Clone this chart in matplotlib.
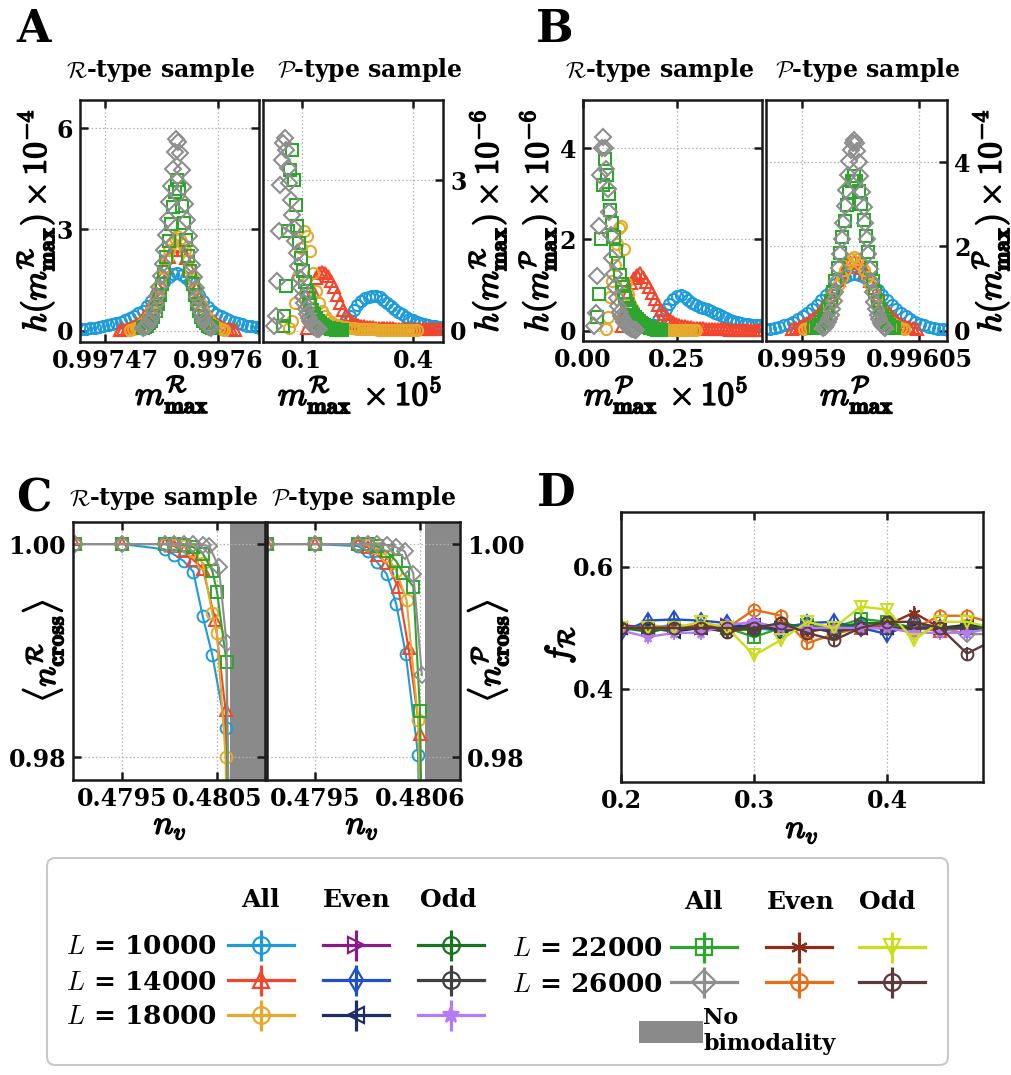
import numpy as np
import matplotlib
matplotlib.use("Agg")
import matplotlib.pyplot as plt
from matplotlib.lines import Line2D
from matplotlib.collections import LineCollection
from matplotlib.container import ErrorbarContainer
from matplotlib.legend_handler import HandlerErrorbar
from matplotlib.patches import FancyBboxPatch, Patch
import matplotlib.patheffects as pe

plt.rcParams.update({
    "font.family": ["DejaVu Serif"],
    "font.weight": "bold",
    "mathtext.fontset": "cm",
    "axes.unicode_minus": False,
    "font.size": 18,
})

# ---------------------------------------------------------------- styles
SIZES = [10000, 14000, 18000, 22000, 26000]
COL_ALL = ["#1E9BDB", "#F4452C", "#E5A92B", "#2EA52E", "#8E8E8E"]
MK_ALL = ["o", "^", "o", "s", "D"]
COL_EVEN = ["#8B1A89", "#1F4FCB", "#1B2F66", "#8B2E1A", "#E56F17"]
MK_EVEN = [">", "d", "<", (6, 2, 0), "o"]
COL_ODD = ["#1A7320", "#404040", "#B57BF5", "#CBDD1B", "#5C3A3A"]
MK_ODD = ["o", "o", "*", "v", "o"]
FILLED_ODD = [False, False, True, False, False]
SHADE = "#8A8A8A"

# ---------------------------------------------------------------- panel A, R-type sample: h(m_max^R) x 1e-4
AL_START = [0.997443, 0.997487, 0.997499, 0.997513, 0.997514]
AL_STEP = [0.000005, 0.000004, 0.000003, 0.0000025, 0.000002]
AL_10000 = [0.05, 0.06, 0.07, 0.09, 0.11, 0.13, 0.16, 0.19, 0.23, 0.27, 0.32, 0.38, 0.44, 0.52, 0.60,
            0.73, 0.88, 1.08, 1.30, 1.45, 1.58, 1.67, 1.71, 1.66, 1.56, 1.44, 1.28, 1.07, 0.87, 0.72,
            0.59, 0.51, 0.43, 0.37, 0.31, 0.26, 0.22, 0.19, 0.15, 0.13, 0.11, 0.09, 0.07, 0.06, 0.05]
AL_14000 = [0.03, 0.04, 0.06, 0.09, 0.13, 0.19, 0.29, 0.40, 0.56, 0.77, 1.00, 1.30, 1.60, 1.90, 2.18,
            2.40, 2.53, 2.52, 2.38, 2.15, 1.88, 1.58, 1.28, 1.00, 0.77, 0.55, 0.40, 0.28, 0.19, 0.13,
            0.09, 0.06, 0.04, 0.03]
AL_18000 = [0.03, 0.05, 0.07, 0.11, 0.16, 0.23, 0.33, 0.45, 0.60, 0.80, 1.02, 1.28, 1.55, 1.85, 2.12,
            2.40, 2.60, 2.74, 2.80, 2.73, 2.58, 2.38, 2.10, 1.83, 1.54, 1.27, 1.00, 0.79, 0.60, 0.45,
            0.33, 0.23, 0.16, 0.11, 0.07, 0.05, 0.03]
AL_22000 = [0.07, 0.10, 0.15, 0.22, 0.30, 0.42, 0.58, 0.80, 1.05, 1.38, 1.75, 2.18, 2.65, 3.15, 3.65,
            4.10, 4.45, 4.20, 3.70, 3.20, 2.70, 2.20, 1.78, 1.40, 1.07, 0.80, 0.58, 0.42, 0.30, 0.22,
            0.15, 0.10, 0.07]
AL_26000 = [0.08, 0.11, 0.15, 0.22, 0.31, 0.42, 0.58, 0.78, 1.02, 1.30, 1.62, 1.98, 2.40, 2.85, 3.30,
            3.80, 4.30, 4.80, 5.30, 5.68, 5.60, 5.25, 4.75, 4.25, 3.75, 3.28, 2.82, 2.38, 1.95, 1.60,
            1.28, 1.00, 0.77, 0.57, 0.42, 0.30, 0.21, 0.15, 0.10, 0.07]

# ---------------------------------------------------------------- panel A, P-type sample: h(m_max^R) x 1e-6, m in units of 1e-5
AR_START = [0.19, 0.115, 0.066, 0.048, 0.026]
AR_STEP = [0.01, 0.008, 0.008, 0.005, 0.004]
AR_10000 = [0.03, 0.06, 0.12, 0.20, 0.30, 0.42, 0.52, 0.60, 0.65, 0.68, 0.70, 0.70, 0.67, 0.62, 0.56,
            0.50, 0.44, 0.38, 0.33, 0.28, 0.24, 0.21, 0.18, 0.16, 0.14, 0.12, 0.10, 0.09, 0.08, 0.07, 0.06]
AR_14000 = [0.05, 0.30, 0.80, 1.05, 1.15, 1.18, 1.15, 1.10, 1.00, 0.88, 0.72, 0.55, 0.42, 0.32, 0.24,
            0.18, 0.14, 0.11, 0.10, 0.09, 0.08, 0.07, 0.07, 0.06, 0.06, 0.06, 0.05, 0.05, 0.05, 0.05,
            0.04, 0.04, 0.04, 0.04, 0.04, 0.04, 0.03, 0.03, 0.03, 0.03, 0.03, 0.03, 0.03, 0.03, 0.03, 0.03]
AR_18000 = [0.05, 0.20, 0.55, 1.10, 1.65, 2.00, 1.90, 1.60, 1.15, 0.80, 0.55, 0.40, 0.30, 0.22, 0.17,
            0.13, 0.11, 0.09, 0.08, 0.07, 0.06, 0.05, 0.05, 0.04, 0.04, 0.04, 0.03, 0.03, 0.03, 0.03,
            0.02, 0.02, 0.02, 0.02, 0.02, 0.02, 0.01, 0.01, 0.01, 0.01, 0.01, 0.01, 0.01, 0.01]
AR_22000 = [0.10, 0.30, 0.90, 2.00, 3.20, 3.60, 3.00, 2.50, 2.10, 1.75, 1.45, 1.20, 0.98, 0.80, 0.65,
            0.52, 0.42, 0.33, 0.26, 0.20, 0.16, 0.12, 0.09, 0.07, 0.06, 0.05, 0.04, 0.03, 0.03, 0.02,
            0.02, 0.01, 0.01]
AR_26000 = [0.10, 0.30, 1.00, 2.00, 2.90, 3.40, 3.75, 3.85, 3.60, 3.25, 2.95, 2.60, 2.30, 2.05, 1.80,
            1.55, 1.30, 1.05, 0.85, 0.68, 0.55, 0.43, 0.33, 0.25, 0.19, 0.14, 0.10, 0.07, 0.05, 0.04, 0.03]

# ---------------------------------------------------------------- panel B, R-type sample: h(m_max^P) x 1e-6, m in units of 1e-5
BL_START = [0.18, 0.104, 0.060, 0.038, 0.030]
BL_STEP = [0.01, 0.008, 0.006, 0.005, 0.004]
BL_10000 = [0.05, 0.12, 0.24, 0.36, 0.48, 0.60, 0.70, 0.77, 0.79, 0.74, 0.67, 0.61, 0.56, 0.53, 0.50,
            0.47, 0.44, 0.40, 0.37, 0.33, 0.29, 0.25, 0.22, 0.20, 0.18, 0.16, 0.15, 0.14, 0.13, 0.12, 0.11]
BL_14000 = [0.10, 0.40, 0.82, 1.04, 1.15, 1.22, 1.26, 1.18, 1.08, 0.95, 0.84, 0.70, 0.57, 0.46, 0.36,
            0.29, 0.23, 0.19, 0.16, 0.13, 0.11, 0.10, 0.09, 0.08, 0.07, 0.07, 0.06, 0.06, 0.05, 0.05,
            0.05, 0.04, 0.04, 0.04, 0.04, 0.04, 0.03, 0.03, 0.03, 0.03, 0.03, 0.03, 0.03, 0.02, 0.02,
            0.02, 0.02]
BL_18000 = [0.05, 0.30, 0.75, 1.10, 1.45, 1.90, 2.25, 2.30, 1.80, 1.05, 0.80, 0.60, 0.47, 0.37, 0.29,
            0.24, 0.19, 0.16, 0.13, 0.11, 0.09, 0.08, 0.07, 0.06, 0.05, 0.05, 0.04, 0.04, 0.03, 0.03,
            0.03, 0.02, 0.02, 0.02, 0.02, 0.02, 0.01, 0.01, 0.01, 0.01, 0.01]
BL_22000 = [0.30, 0.80, 2.00, 3.20, 3.75, 3.40, 3.00, 2.65, 2.35, 2.05, 1.75, 1.48, 1.22, 1.02, 0.86,
            0.72, 0.60, 0.50, 0.42, 0.35, 0.30, 0.26, 0.22, 0.18, 0.15, 0.12, 0.10, 0.08, 0.07, 0.06,
            0.05, 0.04, 0.03, 0.03, 0.02]
BL_26000 = [0.10, 0.40, 1.20, 2.30, 3.40, 4.00, 4.25, 4.00, 3.55, 3.10, 2.60, 2.10, 1.60, 1.25, 0.95,
            0.72, 0.55, 0.42, 0.33, 0.26, 0.20, 0.15, 0.11, 0.08, 0.06, 0.05, 0.04, 0.03, 0.02]

# ---------------------------------------------------------------- panel B, P-type sample: h(m_max^P) x 1e-4
BR_START = [0.995853, 0.995887, 0.995903, 0.995916, 0.995927]
BR_STEP = [0.000006, 0.000005, 0.000004, 0.000003, 0.000002]
BR_10000 = [0.04, 0.05, 0.07, 0.10, 0.13, 0.17, 0.22, 0.28, 0.35, 0.43, 0.52, 0.62, 0.74, 0.86, 0.98,
            1.10, 1.20, 1.28, 1.33, 1.35, 1.33, 1.28, 1.20, 1.10, 0.98, 0.86, 0.74, 0.62, 0.52, 0.43,
            0.35, 0.28, 0.22, 0.17, 0.13, 0.10, 0.07, 0.05, 0.04, 0.03]
BR_14000 = [0.04, 0.06, 0.09, 0.13, 0.18, 0.25, 0.33, 0.43, 0.56, 0.70, 0.85, 1.02, 1.20, 1.38, 1.52,
            1.62, 1.66, 1.61, 1.50, 1.36, 1.19, 1.01, 0.84, 0.69, 0.55, 0.42, 0.32, 0.24, 0.17, 0.12,
            0.08, 0.06, 0.04]
BR_18000 = [0.05, 0.07, 0.10, 0.14, 0.20, 0.27, 0.36, 0.47, 0.60, 0.76, 0.93, 1.10, 1.28, 1.45, 1.60,
            1.71, 1.76, 1.70, 1.59, 1.44, 1.27, 1.10, 0.92, 0.75, 0.60, 0.46, 0.35, 0.26, 0.19, 0.14,
            0.10, 0.07, 0.05]
BR_22000 = [0.06, 0.09, 0.14, 0.20, 0.28, 0.38, 0.52, 0.70, 0.92, 1.18, 1.50, 1.85, 2.22, 2.60, 2.98,
            3.30, 3.55, 3.68, 3.56, 3.32, 3.00, 2.62, 2.24, 1.86, 1.50, 1.18, 0.92, 0.70, 0.52, 0.38,
            0.28, 0.20, 0.14, 0.09, 0.06]
BR_26000 = [0.07, 0.10, 0.14, 0.20, 0.28, 0.38, 0.52, 0.70, 0.92, 1.18, 1.48, 1.82, 2.18, 2.56, 2.95,
            3.33, 3.70, 4.02, 4.28, 4.45, 4.52, 4.44, 4.27, 4.00, 3.68, 3.30, 2.93, 2.55, 2.17, 1.81,
            1.47, 1.17, 0.91, 0.69, 0.51, 0.37, 0.27, 0.19, 0.13, 0.09, 0.06]

# ---------------------------------------------------------------- panel C: <n_cross> vs n_v
CL_X = [
    [0.4790, 0.4795, 0.47995, 0.48005, 0.48015, 0.48025, 0.48035, 0.48045, 0.48059, 0.48062],
    [0.4790, 0.4795, 0.47995, 0.48005, 0.48015, 0.48025, 0.48035, 0.48048, 0.48059, 0.48063],
    [0.4790, 0.4795, 0.47995, 0.48005, 0.48015, 0.48025, 0.48035, 0.48045, 0.48050, 0.48059, 0.48063],
    [0.4790, 0.4795, 0.47995, 0.48005, 0.48015, 0.48025, 0.48035, 0.48045, 0.48050, 0.48060, 0.48062],
    [0.4790, 0.4795, 0.47995, 0.48005, 0.48015, 0.48025, 0.48035, 0.48042, 0.48052, 0.48060, 0.48063],
]
CL_Y = [
    [1.0, 1.0, 0.9995, 0.9990, 0.9984, 0.9974, 0.9932, 0.9896, 0.9827, 0.9600],
    [1.0, 1.0, 1.0, 0.9998, 0.9993, 0.9985, 0.9977, 0.9929, 0.9844, 0.9600],
    [1.0, 1.0, 1.0, 0.9999, 0.9998, 0.9993, 0.9982, 0.9935, 0.9916, 0.9800, 0.9600],
    [1.0, 1.0, 1.0, 1.0, 0.9999, 0.9997, 0.9991, 0.9975, 0.9955, 0.9889, 0.9650],
    [1.0, 1.0, 1.0, 1.0, 1.0, 1.0, 0.9999, 0.9998, 0.9978, 0.9907, 0.9700],
]
CR_X = [
    [0.4790, 0.4795, 0.47995, 0.48005, 0.48015, 0.48025, 0.48035, 0.48045, 0.48058, 0.48060],
    [0.4790, 0.4795, 0.47995, 0.48005, 0.48015, 0.48025, 0.48037, 0.48048, 0.48060, 0.48062],
    [0.4790, 0.4795, 0.47995, 0.48005, 0.48015, 0.48025, 0.48035, 0.48046, 0.48058, 0.48062],
    [0.4790, 0.4795, 0.47995, 0.48005, 0.48015, 0.48025, 0.48035, 0.48042, 0.48053, 0.48060, 0.48062],
    [0.4790, 0.4795, 0.47995, 0.48005, 0.48015, 0.48025, 0.48035, 0.48044, 0.48053, 0.48062],
]
CR_Y = [
    [1.0, 1.0, 0.9998, 0.9993, 0.9983, 0.9972, 0.9944, 0.9897, 0.9802, 0.9700],
    [1.0, 1.0, 1.0, 0.9997, 0.9990, 0.9982, 0.9960, 0.9902, 0.9822, 0.9700],
    [1.0, 1.0, 1.0, 0.9999, 0.9996, 0.9989, 0.9975, 0.9947, 0.9835, 0.9700],
    [1.0, 1.0, 1.0, 1.0, 0.9998, 0.9993, 0.9984, 0.9973, 0.9960, 0.9843, 0.9700],
    [1.0, 1.0, 1.0, 1.0, 1.0, 0.9999, 0.9997, 0.9993, 0.9972, 0.9877],
]
NO_BIMODAL_R = 0.480637
NO_BIMODAL_P = 0.480650

# ---------------------------------------------------------------- panel D: f_R vs n_v
D_X = [0.20, 0.22, 0.24, 0.26, 0.28, 0.30, 0.32, 0.34, 0.36, 0.38, 0.40, 0.42, 0.44, 0.46, 0.48]
D_ERR = 0.011
D_ALL = [
    [0.500, 0.500, 0.505, 0.500, 0.500, 0.500, 0.495, 0.500, 0.500, 0.505, 0.500, 0.500, 0.500, 0.500, 0.500],
    [0.500, 0.500, 0.500, 0.505, 0.500, 0.500, 0.500, 0.495, 0.500, 0.500, 0.500, 0.500, 0.495, 0.500, 0.500],
    [0.500, 0.505, 0.500, 0.500, 0.500, 0.505, 0.500, 0.500, 0.500, 0.500, 0.505, 0.500, 0.500, 0.505, 0.500],
    [0.500, 0.500, 0.500, 0.500, 0.500, 0.485, 0.500, 0.505, 0.500, 0.515, 0.510, 0.500, 0.500, 0.500, 0.500],
    [0.500, 0.500, 0.500, 0.500, 0.500, 0.505, 0.500, 0.500, 0.495, 0.500, 0.500, 0.500, 0.500, 0.490, 0.490],
]
D_EVEN = [
    [0.505, 0.500, 0.500, 0.500, 0.505, 0.500, 0.500, 0.500, 0.500, 0.505, 0.500, 0.500, 0.500, 0.500, 0.500],
    [0.492, 0.512, 0.514, 0.512, 0.508, 0.500, 0.500, 0.508, 0.510, 0.500, 0.490, 0.508, 0.500, 0.500, 0.494],
    [0.500, 0.500, 0.494, 0.500, 0.500, 0.505, 0.500, 0.500, 0.494, 0.500, 0.500, 0.500, 0.500, 0.505, 0.500],
    [0.505, 0.494, 0.500, 0.500, 0.494, 0.500, 0.505, 0.494, 0.500, 0.500, 0.505, 0.525, 0.500, 0.500, 0.500],
    [0.500, 0.500, 0.500, 0.500, 0.500, 0.530, 0.520, 0.475, 0.490, 0.500, 0.508, 0.500, 0.520, 0.520, 0.508],
]
D_ODD = [
    [0.500, 0.494, 0.500, 0.500, 0.500, 0.496, 0.508, 0.500, 0.500, 0.508, 0.508, 0.500, 0.500, 0.500, 0.500],
    [0.500, 0.500, 0.500, 0.500, 0.494, 0.506, 0.494, 0.500, 0.494, 0.500, 0.500, 0.500, 0.500, 0.500, 0.494],
    [0.496, 0.485, 0.492, 0.492, 0.505, 0.510, 0.500, 0.500, 0.500, 0.500, 0.500, 0.492, 0.492, 0.492, 0.500],
    [0.500, 0.500, 0.500, 0.510, 0.500, 0.455, 0.480, 0.510, 0.500, 0.535, 0.530, 0.480, 0.510, 0.510, 0.500],
    [0.500, 0.500, 0.500, 0.500, 0.500, 0.500, 0.508, 0.492, 0.480, 0.500, 0.510, 0.510, 0.500, 0.458, 0.480],
]

# ---------------------------------------------------------------- figure
W, H = 1011, 1075
fig = plt.figure(figsize=(W / 100, H / 100), dpi=100)
BOLD = [pe.withStroke(linewidth=1.1, foreground="black")]
TICK_FS = 17
TEXT_FS = 18
TITLE_FS = 17
LBL = 24


def axes_px(l, t, r, b):
    return fig.add_axes([l / W, 1 - b / H, (r - l) / W, (b - t) / H])


def ftext(x, y, s, size=TEXT_FS, bold_math=False, **kw):
    kw.setdefault("ha", "center")
    kw.setdefault("va", "center")
    t = fig.text(x / W, 1 - y / H, s, fontsize=size, **kw)
    if bold_math:
        t.set_path_effects(BOLD)
    return t


def style(ax, side, xt, xl, yt, yl):
    for s in ax.spines.values():
        s.set_linewidth(1.8)
        s.set_color("#1a1a1a")
    ax.set_xticks(xt)
    ax.set_xticklabels(xl)
    ax.set_yticks(yt)
    ax.set_yticklabels(yl)
    ax.tick_params(which="major", direction="in", length=6, width=1.8,
                   color="#1a1a1a", pad=5, labelsize=TICK_FS, top=True, bottom=True)
    if side == "right":
        ax.tick_params(left=False, right=True, labelleft=False, labelright=True)
    else:
        ax.tick_params(left=True, right=True, labelleft=True, labelright=False)
    ax.grid(True, ls=(0, (1.2, 1.8)), color="#b0b0b0", lw=0.9)
    ax.set_axisbelow(True)


def hist(ax, starts, steps, series):
    for i, vals in enumerate(series):
        x = starts[i] + steps[i] * np.arange(len(vals))
        ax.plot(x, vals, ls="none", marker=MK_ALL[i], ms=8, mfc="none",
                mec=COL_ALL[i], mew=1.5)


# Panel A
axA1 = axes_px(80, 100, 259, 342)
hist(axA1, AL_START, AL_STEP, [AL_10000, AL_14000, AL_18000, AL_22000, AL_26000])
axA1.set_xlim(0.997441, 0.997647)
axA1.set_ylim(-0.33, 6.83)
style(axA1, "left", [0.99747, 0.9976], ["0.99747", "0.9976"], [0, 3, 6], ["0", "3", "6"])

axA2 = axes_px(263, 100, 443, 342)
hist(axA2, AR_START, AR_STEP, [AR_10000, AR_14000, AR_18000, AR_22000, AR_26000])
axA2.set_xlim(-0.005, 0.481)
axA2.set_ylim(-0.22, 4.6)
style(axA2, "right", [0.1, 0.4], ["0.1", "0.4"], [0, 3], ["0", "3"])

# Panel B
axB1 = axes_px(583, 100, 762, 341)
hist(axB1, BL_START, BL_STEP, [BL_10000, BL_14000, BL_18000, BL_22000, BL_26000])
axB1.set_xlim(0.0, 0.476)
axB1.set_ylim(-0.22, 5.05)
style(axB1, "left", [0.0, 0.25], ["0.00", "0.25"], [0, 2, 4], ["0", "2", "4"])

axB2 = axes_px(766, 100, 947, 341)
hist(axB2, BR_START, BR_STEP, [BR_10000, BR_14000, BR_18000, BR_22000, BR_26000])
axB2.set_xlim(0.995854, 0.996086)
axB2.set_ylim(-0.24, 5.47)
style(axB2, "right", [0.9959, 0.99605], ["0.9959", "0.99605"], [0, 2, 4], ["0", "2", "4"])


# Panel C
def cross_panel(ax, xs, ys, shade_from):
    for i in range(len(xs)):
        ax.plot(xs[i], ys[i], color=COL_ALL[i], marker=MK_ALL[i], ms=8.5, mfc="none",
                mew=1.4, lw=1.5)
    ax.axvspan(shade_from, 0.4812, color=SHADE, lw=0, zorder=0.5)


axC1 = axes_px(73, 522, 265, 780)
cross_panel(axC1, CL_X, CL_Y, NO_BIMODAL_R)
axC1.set_xlim(0.478984, 0.481005)
axC1.set_ylim(0.97784, 1.00207)
style(axC1, "left", [0.4795, 0.4805], ["0.4795", "0.4805"], [0.98, 1.00], ["0.98", "1.00"])

axC2 = axes_px(267, 522, 460, 780)
cross_panel(axC2, CR_X, CR_Y, NO_BIMODAL_P)
axC2.set_xlim(0.478997, 0.481019)
axC2.set_ylim(0.97784, 1.00207)
style(axC2, "right", [0.4795, 0.4806], ["0.4795", "0.4806"], [0.98, 1.00], ["0.98", "1.00"])

# Panel D
axD = axes_px(621, 512, 983, 782)
for vals_group, cols, mks, filled in [(D_ALL, COL_ALL, MK_ALL, [False] * 5),
                                      (D_EVEN, COL_EVEN, MK_EVEN, [False] * 5),
                                      (D_ODD, COL_ODD, MK_ODD, FILLED_ODD)]:
    for i in range(5):
        axD.errorbar(D_X, vals_group[i], yerr=D_ERR, color=cols[i], marker=mks[i], ms=8.5,
                     mfc=cols[i] if filled[i] else "none", mew=1.4, lw=1.7,
                     elinewidth=1.4, capsize=0)
axD.set_xlim(0.2, 0.472)
axD.set_ylim(0.2475, 0.69)
style(axD, "both", [0.2, 0.3, 0.4], ["0.2", "0.3", "0.4"], [0.4, 0.6], ["0.4", "0.6"])

# ---------------------------------------------------------------- labels
ftext(34, 30, "A", size=32)
ftext(555, 30, "B", size=32)
ftext(34, 499, "C", size=32)
ftext(556, 493, "D", size=32)

R_T = r"$\mathcal{R}$-type sample"
P_T = r"$\mathcal{P}$-type sample"
for cx, s in [(161, R_T), (370, P_T), (660, R_T), (868, P_T)]:
    ftext(cx, 70, s, size=TITLE_FS)
for cx, s in [(164, R_T), (364, P_T)]:
    ftext(cx, 498, s, size=TITLE_FS)

ftext(36, 221, r"$h(m^{\mathcal{R}}_{\mathbf{max}})\times10^{-4}$", size=LBL, rotation=90, bold_math=True)
ftext(488, 221, r"$h(m^{\mathcal{R}}_{\mathbf{max}})\times10^{-6}$", size=LBL, rotation=90, bold_math=True)
ftext(538, 221, r"$h(m^{\mathcal{P}}_{\mathbf{max}})\times10^{-6}$", size=LBL, rotation=90, bold_math=True)
ftext(991, 221, r"$h(m^{\mathcal{P}}_{\mathbf{max}})\times10^{-4}$", size=LBL, rotation=90, bold_math=True)

ftext(172, 395, r"$m^{\mathcal{R}}_{\mathbf{max}}$", size=LBL, bold_math=True)
ftext(360, 395, r"$m^{\mathcal{R}}_{\mathbf{max}}\,\times10^{5}$", size=LBL, bold_math=True)
ftext(666, 395, r"$m^{\mathcal{P}}_{\mathbf{max}}\,\times10^{5}$", size=LBL, bold_math=True)
ftext(857, 395, r"$m^{\mathcal{P}}_{\mathbf{max}}$", size=LBL, bold_math=True)

ftext(43, 651, r"$\langle n^{\mathcal{R}}_{\mathbf{cross}}\rangle$", size=LBL, rotation=90, bold_math=True)
ftext(488, 651, r"$\langle n^{\mathcal{P}}_{\mathbf{cross}}\rangle$", size=LBL, rotation=90, bold_math=True)
ftext(170, 825, r"$n_v$", size=LBL, bold_math=True)
ftext(362, 825, r"$n_v$", size=LBL, bold_math=True)
ftext(802, 829, r"$n_v$", size=LBL, bold_math=True)
ftext(560, 645, r"$f_{\mathcal{R}}$", size=LBL, rotation=90, bold_math=True)

# ---------------------------------------------------------------- legend
frame = FancyBboxPatch((47 / W, 1 - 1065 / H), (948 - 47) / W, (1065 - 858) / H,
                       boxstyle="round,pad=0,rounding_size=0.008", transform=fig.transFigure,
                       fc="white", ec="#c8c8c8", lw=1.5, zorder=0)
fig.patches.append(frame)


def proxy(color, marker, filled=False):
    ln = Line2D([], [], color=color, marker=marker, ms=12, mew=1.6, lw=2.3,
                mfc=color if filled else "none", mec=color)
    bars = LineCollection([], colors=[color], linewidths=2.3)
    return ErrorbarContainer((ln, (), (bars,)), has_xerr=False, has_yerr=True)


def put_handle(cont, cx, cy):
    fig.legend([cont], [""], loc="center", bbox_to_anchor=(cx / W, 1 - cy / H),
               bbox_transform=fig.transFigure, frameon=False, borderpad=0,
               borderaxespad=0, handletextpad=0, handlelength=2.65, fontsize=18,
               handler_map={ErrorbarContainer: HandlerErrorbar(yerr_size=0.62)})


groups = [([0, 1, 2], [261, 356, 451], [947, 982, 1017], 217, [900, 900, 900], [260, 357, 448]),
          ([3, 4], [704, 799, 892], [949, 984], 663, [902, 902, 902], [703, 801, 887])]
for idx, cols_x, rows_y, lab_r, head_y, head_x in groups:
    for hx, hy, name in zip(head_x, head_y, ["All", "Even", "Odd"]):
        ftext(hx, hy, name, size=TEXT_FS)
    for k, i in enumerate(idx):
        ftext(lab_r, rows_y[k], r"$L$ = %d" % SIZES[i], size=19, ha="right")
        put_handle(proxy(COL_ALL[i], MK_ALL[i]), cols_x[0], rows_y[k])
        put_handle(proxy(COL_EVEN[i], MK_EVEN[i]), cols_x[1], rows_y[k])
        put_handle(proxy(COL_ODD[i], MK_ODD[i], FILLED_ODD[i]), cols_x[2], rows_y[k])

fig.legend([Patch(fc=SHADE, ec="none")], ["No\nbimodality"], loc="center left",
           bbox_to_anchor=(639 / W, 1 - 1031 / H), bbox_transform=fig.transFigure,
           frameon=False, borderpad=0, borderaxespad=0, handletextpad=0.0,
           handlelength=2.9, handleheight=1.1, fontsize=16, labelspacing=0)

fig.savefig("out.png", dpi=100)
